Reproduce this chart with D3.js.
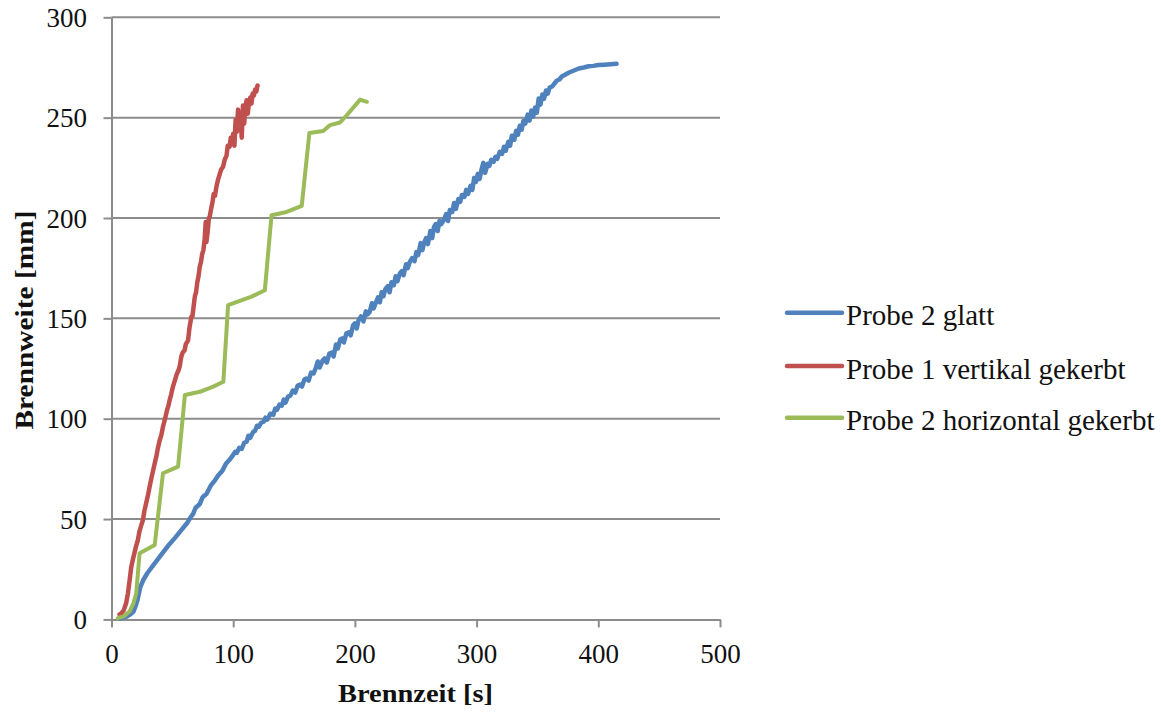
<!DOCTYPE html>
<html>
<head>
<meta charset="utf-8">
<script src="https://cdn.jsdelivr.net/npm/d3@7"></script>
<style>
  html, body { margin: 0; padding: 0; background: #fff; }
  svg { display: block; }
</style>
</head>
<body>
<svg id="chart" width="1161" height="713"></svg>
<script>
// ---------- data ----------
const seriesNames = ["Probe 2 glatt", "Probe 1 vertikal gekerbt", "Probe 2 horizontal gekerbt"];
const seriesColors = ["#4F81BD", "#C0504D", "#9BBB59"];
const xTicks = [0, 100, 200, 300, 400, 500];
const yTicks = [0, 50, 100, 150, 200, 250, 300];
const xTitle = "Brennzeit [s]";
const yTitle = "Brennweite [mm]";

// Probe 2 glatt: [Brennzeit s, Brennweite mm]
const probe2Glatt = [
  [6.6,0.6],[12.5,1.4],[16,2.8],[18,3.9],[20,7],[21.5,10],[23.6,16],[26,19.5],[29.4,23],
  [35,27.5],[40,31.5],[46,36.3],[52,40.5],[56,43.5],[62,47.9],[65,51],[67,52.5],[69,55.5],
  [72.5,57.5],[75,61],[78,62.5],[81.4,66.5],[84,68.5],[88,72],[91,74],[94,77.5],[97,79.5],
  [100,82],[101.5,83.5],[103,83],[105,85.5],[107,85],[109,88],[111,88.5],[112.5,91.5],
  [114,90.5],[116.5,93.5],[118,94],[119.5,96.5],[121,96],[123,98],[125,98.5],[126.5,100.5],
  [128,99.5],[130.5,102.5],[133,102],[134.5,105],[136,104.5],[138,107],[140,106.5],
  [141.5,109.5],[143,108],[145,111],[147,111.5],[149,114],[151,113],[153,116.5],[155,117],
  [156.5,116],[158.5,119.5],[160,120],[162,119],[164,123],[166,122.5],[168,125.5],
  [169.5,128.5],[171,125.5],[173.5,129],[175,130],[177,128],[179,132.5],[181,133],
  [182.5,131],[184.5,137],[186,135],[188,139.5],[189.5,140],[191,138],[193,142.5],
  [195,143],[196.5,141.5],[198.5,146.5],[200,147.5],[201.5,145],[203,149],[205,151],
  [207,148.5],[209,153.5],[210.5,152],[212,153],[214,157.5],[215.5,155],[217,157.5],
  [219,160.5],[220.5,158],[222,163],[223.5,161],[225,164.5],[227,166],[228.5,163],
  [230,168],[232,166.5],[233.5,171],[235,168.5],[237,172.5],[238.5,173.5],[240,171.5],
  [242,177],[243.5,175],[245,178],[247,180],[249,178.5],[250.5,183],[252,181.5],
  [254,187.5],[255.5,184],[257,188],[258.5,190],[260,187],[262,193.5],[263.5,190],
  [265,195.5],[266.5,197],[268,193.5],[269.5,198.5],[271,197],[273,199],[275,202],
  [276.5,198.5],[278,204],[280,203],[281.5,207.5],[283,204.5],[285,209.5],[286.5,208],
  [288,211.5],[290,210.5],[291.5,214],[293,212],[295,216],[296.5,214],[298,220],
  [299.5,218],[301,222],[302.5,219.5],[304,224],[305.5,227.5],[307,222.5],[309,227],
  [310.5,226],[312,229],[314,228],[315.5,230.5],[317,229.5],[319,233],[321,232],
  [322.5,235.5],[324,233.5],[326,238],[327.5,236],[329,241],[331,239],[332.5,243.5],
  [334,241.5],[335.5,246],[337,244],[338.5,248.5],[340,247],[342,251.5],[343.5,248.5],
  [345,253.5],[346.5,250.5],[348,255],[349.5,252.5],[351,259.5],[352.5,256.5],[354,261.5],
  [355.5,259.5],[357,263.5],[358.5,262],[360,265],[362,265.5],[364,267],[366,268.5],
  [368,269],[370,270.5],[373,271.5],[376,272.5],[380,273.5],[384,274.5],[388,275],
  [392,275.6],[396,275.8],[400,276.2],[405,276.4],[410,276.6],[415,276.8]
];

// Probe 1 vertikal gekerbt
const probe1Vertikal = [
  [6.6,2.5],[8,3],[10,4.5],[12,8],[13.5,13],[15,20],[16.2,26],[18,31],[20,36],[21.7,39.6],
  [23,44],[24.5,47],[25.8,49.5],[27,54],[28.5,58],[30,62],[31.3,66],[33,71],[34.5,75],
  [36,79],[36.8,81],[38,85],[39.5,89],[41,92],[42.3,96],[44,100],[45.5,104],[47,107],
  [47.8,109.3],[49,112],[50.5,116],[52,119],[53.5,122],[55,124],[56,126],[57.4,131],
  [58.5,133],[60,134],[61,137],[62.9,139],[64,145],[65.6,150.8],[66.5,151],[67.5,156],
  [68.5,161],[69.5,163],[70.5,168],[71.5,171],[72.5,175.7],[73.5,178],[74.5,182],[75.5,184],
  [76.5,189],[77.4,198],[78,188],[79,193],[80,200],[80.7,200.6],[82,205],[83,208],[84,212],
  [85,211],[86.2,215.5],[87.5,219],[89,222],[90,224],[91.7,225.5],[93,229],[94.5,231],
  [95.5,236],[97,235.5],[98,240],[99,237],[100,242],[101,236],[102,249],[103,243],[104,254],
  [105,245],[106,252],[107,240],[108,256],[109,247],[110,255],[111,258.7],[112,252],
  [113,258],[114,260],[115,257],[116,262],[117,261],[118,264],[119,263],[120,266]
];

// Probe 2 horizontal gekerbt
const probe2Horizontal = [
  [5.2,0.6],[10,1.5],[14.8,3.9],[18,8],[20.3,13],[23.1,33],[35.5,37.1],[42.3,72.8],
  [54.7,76.1],[60.3,111.8],[72.6,113.4],[83.6,116],[91.9,118.4],[95.8,156.6],[115.1,160.8],
  [126,164],[131.5,201.4],[143.9,203],[156.3,206],[162.6,242.4],[174,243.4],[179.6,246.3],
  [187.8,247.6],[193.3,251.2],[204.3,259],[209.8,257.9]
];

const allSeries = [probe2Glatt, probe1Vertikal, probe2Horizontal];

// ---------- chart ----------
const svg = d3.select("#chart");
const serif = "Liberation Serif";
const gridColor = "#8c8c8c";

const x = d3.scaleLinear().domain([0, 500]).range([111.5, 720]);
const y = d3.scaleLinear().domain([0, 300]).range([619.4, 17.3]);

// gridlines
svg.append("g").selectAll("line").data(yTicks.filter(d => d > 0)).join("line")
  .attr("x1", x(0)).attr("x2", x(500))
  .attr("y1", d => y(d)).attr("y2", d => y(d))
  .attr("stroke", gridColor).attr("stroke-width", 2);

// x axis
const gx = svg.append("g").attr("transform", `translate(0,${y(0)})`)
  .call(d3.axisBottom(x).tickValues(xTicks).tickSize(8).tickSizeOuter(0).tickFormat(d3.format("d")));
gx.attr("font-family", serif).attr("font-size", 27);
gx.select(".domain").attr("stroke", gridColor).attr("stroke-width", 2);
gx.selectAll(".tick line").attr("stroke", gridColor).attr("stroke-width", 2);
gx.selectAll(".tick text").attr("y", 43.8).attr("dy", null)
  .style("font-family", serif).style("font-size", "27px").attr("fill", "#111");

// y axis
const gy = svg.append("g").attr("transform", `translate(${x(0)},0)`)
  .call(d3.axisLeft(y).tickValues(yTicks).tickSize(8).tickSizeOuter(0).tickFormat(d3.format("d")));
gy.attr("font-family", serif).attr("font-size", 27);
gy.select(".domain").attr("stroke", gridColor).attr("stroke-width", 2);
gy.selectAll(".tick line").attr("stroke", gridColor).attr("stroke-width", 2);
gy.selectAll(".tick text").attr("x", -24.5).attr("dy", "0.34em")
  .style("font-family", serif).style("font-size", "27px").attr("fill", "#111");

// axis titles
svg.append("text").attr("x", 415.5).attr("y", 702.3).attr("text-anchor", "middle")
  .style("font-family", serif).attr("font-weight", "bold").style("font-size", "26px")
  .attr("textLength", 155).attr("lengthAdjust", "spacingAndGlyphs")
  .attr("fill", "#111").text(xTitle);

svg.append("text").attr("transform", "translate(33,320) rotate(-90)").attr("text-anchor", "middle")
  .style("font-family", serif).attr("font-weight", "bold").style("font-size", "26px")
  .attr("textLength", 219).attr("lengthAdjust", "spacingAndGlyphs")
  .attr("fill", "#111").text(yTitle);

// series lines
const line = d3.line().x(d => x(d[0])).y(d => y(d[1]));
svg.append("g").selectAll("path").data(allSeries).join("path")
  .attr("d", line)
  .attr("fill", "none")
  .attr("stroke", (d, i) => seriesColors[i])
  .attr("stroke-width", (d, i) => i === 2 ? 4 : 4.5)
  .attr("stroke-linejoin", "round")
  .attr("stroke-linecap", "round");

// legend
const legendY = [312.7, 366, 417.7];
const lg = svg.append("g").selectAll("g").data(seriesNames).join("g")
  .attr("transform", (d, i) => `translate(0,${legendY[i]})`);
lg.append("line").attr("x1", 787).attr("x2", 842).attr("y1", 0).attr("y2", 0)
  .attr("stroke", (d, i) => seriesColors[i]).attr("stroke-width", 4.5).attr("stroke-linecap", "round");
lg.append("text").attr("x", 846).attr("y", 12.5)
  .style("font-family", serif).style("font-size", "29px").attr("fill", "#111")
  .text(d => d);
</script>
</body>
</html>
